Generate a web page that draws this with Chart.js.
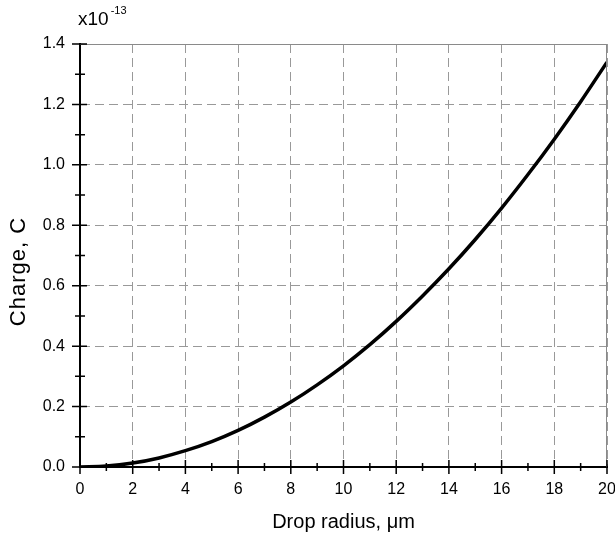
<!DOCTYPE html>
<html>
<head>
<meta charset="utf-8">
<script src="https://cdn.jsdelivr.net/npm/chart.js@4"></script>
<style>
html,body{margin:0;padding:0;background:#fff;}
#wrap{width:615px;height:538px;}
</style>
</head>
<body>
<div id="wrap"><canvas id="c" width="615" height="538"></canvas></div>
<script>
const radius = [0,1,2,3,4,5,6,7,8,9,10,11,12,13,14,15,16,17,18,19,20];
const charge = [0,0.003,0.013,0.030,0.054,0.084,0.121,0.165,0.215,0.272,0.335,0.405,0.482,0.566,0.656,0.753,0.857,0.968,1.085,1.209,1.340];
const xTickLabels = ["0","2","4","6","8","10","12","14","16","18","20"];
const yTickLabels = ["0.0","0.2","0.4","0.6","0.8","1.0","1.2","1.4"];
const xMinorTicks = [1,3,5,7,9,11,13,15,17,19];
const yMinorTicks = [0.1,0.3,0.5,0.7,0.9,1.1,1.3];
const xTitle = "Drop radius, \u03bcm";
const yTitle = "Charge, C";
const multiplierBase = "x10";
const multiplierExp = "-13";

const FONT = "'Liberation Sans', Arial, sans-serif";

const extras = {
  id: 'extras',
  afterDraw(chart) {
    const {ctx, chartArea: a, scales: {x, y}} = chart;
    ctx.save();
    // top and right frame
    ctx.strokeStyle = '#8a8a8a';
    ctx.lineWidth = 1;
    ctx.beginPath();
    ctx.moveTo(a.left, a.top + 0.5); ctx.lineTo(a.right, a.top + 0.5);
    ctx.moveTo(a.right - 0.5, a.top); ctx.lineTo(a.right - 0.5, a.bottom);
    ctx.stroke();
    // ticks
    ctx.strokeStyle = '#000';
    ctx.lineWidth = 1.5;
    ctx.beginPath();
    xTickLabels.forEach(l => { const px = x.getPixelForValue(parseFloat(l)); ctx.moveTo(px, a.bottom - 7); ctx.lineTo(px, a.bottom + 7); });
    xMinorTicks.forEach(v => { const px = x.getPixelForValue(v); ctx.moveTo(px, a.bottom - 4); ctx.lineTo(px, a.bottom + 4); });
    yTickLabels.forEach(l => { const py = y.getPixelForValue(parseFloat(l)); ctx.moveTo(a.left - 8, py); ctx.lineTo(a.left + 7, py); });
    yMinorTicks.forEach(v => { const py = y.getPixelForValue(v); ctx.moveTo(a.left - 5, py); ctx.lineTo(a.left + 5, py); });
    ctx.stroke();
    // multiplier
    ctx.fillStyle = '#000';
    ctx.textBaseline = 'alphabetic';
    ctx.textAlign = 'left';
    ctx.font = '19px ' + FONT;
    ctx.fillText(multiplierBase, 78, 25);
    const w = ctx.measureText(multiplierBase).width;
    ctx.font = '11px ' + FONT;
    ctx.fillText(multiplierExp, 78 + w + 2, 14);
    // y title (rotated)
    ctx.translate(19, (a.top + a.bottom) / 2 + 16);
    ctx.rotate(-Math.PI / 2);
    ctx.font = '22px ' + FONT;
    ctx.letterSpacing = '1px';
    ctx.textAlign = 'center';
    ctx.textBaseline = 'middle';
    ctx.fillText(yTitle, 0, 0);
    ctx.restore();
  }
};

new Chart(document.getElementById('c'), {
  type: 'line',
  data: {
    datasets: [{
      data: radius.map((r, i) => ({x: r, y: charge[i]})),
      borderColor: '#000',
      borderWidth: 3.5,
      pointRadius: 0,
      fill: false,
      cubicInterpolationMode: 'monotone'
    }]
  },
  options: {
    responsive: false,
    animation: false,
    devicePixelRatio: 1,
    layout: {padding: {left: 0, top: 44, right: 0, bottom: 0}},
    plugins: {legend: {display: false}, tooltip: {enabled: false}},
    scales: {
      x: {
        type: 'linear', min: 0, max: 20,
        afterFit(s) { s.height = 71; s.paddingRight = 8; s.paddingLeft = 0; },
        afterBuildTicks(s) { s.ticks = xTickLabels.map(l => ({value: parseFloat(l)})); },
        grid: {display: true, drawTicks: false, color: '#999', lineWidth: 1},
        border: {display: true, color: '#000', width: 2, dash: [9, 5]},
        ticks: {
          padding: 13, color: '#000', font: {family: FONT, size: 16},
          maxRotation: 0, autoSkip: false,
          callback: (v) => xTickLabels[xTickLabels.map(parseFloat).indexOf(v)]
        },
        title: {display: true, text: xTitle, color: '#000', font: {family: FONT, size: 20}, padding: {top: 8, bottom: 4}}
      },
      y: {
        type: 'linear', min: 0, max: 1.4,
        afterFit(s) { s.width = 80; s.paddingTop = 0; s.paddingBottom = 0; },
        afterBuildTicks(s) { s.ticks = yTickLabels.map(l => ({value: parseFloat(l)})); },
        grid: {display: true, drawTicks: false, color: '#999', lineWidth: 1},
        border: {display: true, color: '#000', width: 2, dash: [9, 5]},
        ticks: {
          padding: 15, color: '#000', font: {family: FONT, size: 16},
          autoSkip: false,
          callback: (v) => yTickLabels[yTickLabels.map(parseFloat).findIndex(t => Math.abs(t - v) < 1e-9)]
        },
        title: {display: false}
      }
    }
  },
  plugins: [extras]
});
</script>
</body>
</html>
